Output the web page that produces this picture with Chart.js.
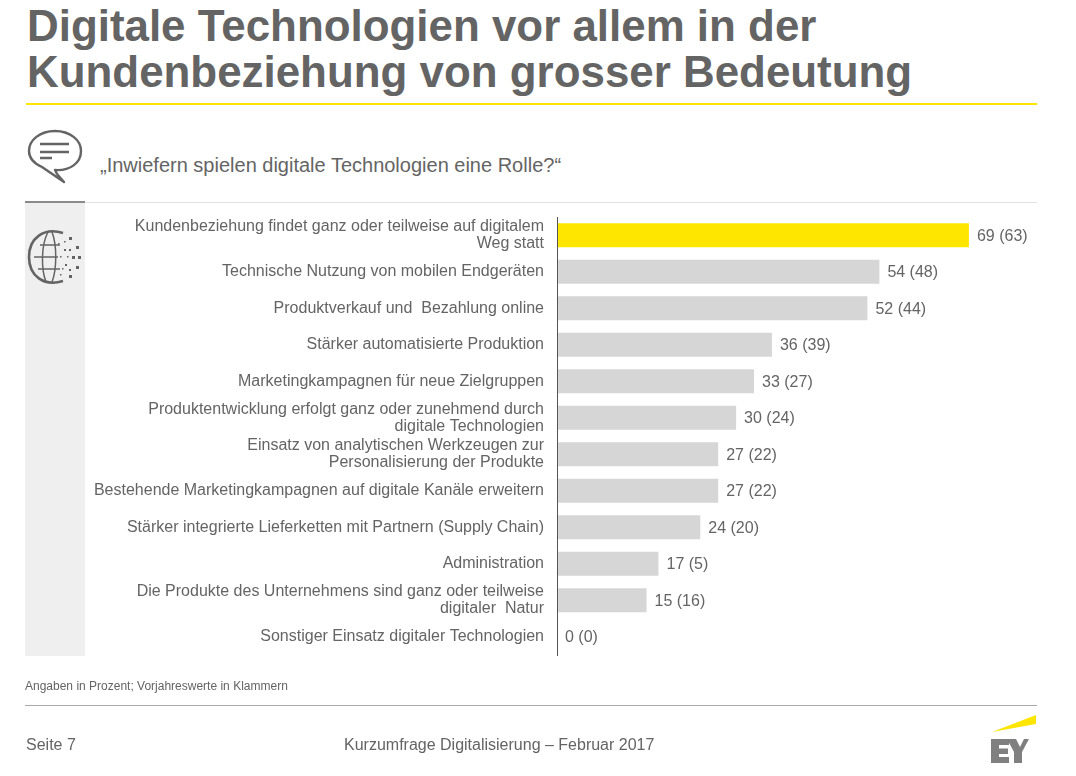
<!DOCTYPE html>
<html lang="de">
<head>
<meta charset="utf-8">
<title>Kurzumfrage Digitalisierung</title>
<script src="https://cdn.jsdelivr.net/npm/chart.js@4"></script>
<style>
    html, body { margin: 0; padding: 0; background: #fff; }
    body { width: 1076px; height: 776px; position: relative; overflow: hidden; font-family: "Liberation Sans", Arial, sans-serif; color: #646464; }
    #chartBox { position: absolute; left: 0; top: 0; width: 1076px; height: 776px; }
    .abs { position: absolute; white-space: nowrap; }
    h1 { position: absolute; left: 27px; top: 3px; margin: 0; font-size: 43.9px; line-height: 45.5px; font-weight: bold; white-space: nowrap; }
</style>
</head>
<body>
<h1>Digitale Technologien vor allem in der<br>Kundenbeziehung von grosser Bedeutung</h1>
<div class="abs" style="left:26px;top:103px;width:1011px;height:2px;background:#FFE600"></div>
<div class="abs" id="question" style="left:100px;top:153px;font-size:20px;line-height:24px">„Inwiefern spielen digitale Technologien eine Rolle?“</div>

<svg class="abs" style="left:25px;top:128px" width="60" height="58" viewBox="25 128 60 58" fill="none" stroke="#646464">
    <path d="M57 174 L64 182 L42 167 C33 163 29 157 29 151 C29 140 40 131 55 131 C70 131 81 140 81 151 C81 163 70 171 55 170 L57 174" stroke-width="2.4" stroke-linejoin="round"/>
    <path d="M40 144 H69 M40 152 H69 M40 158 H52" stroke-width="2.6"/>
</svg>

<div class="abs" style="left:85px;top:202px;width:952px;height:1px;background:#e2e2e2"></div>
<div class="abs" style="left:25px;top:203px;width:60px;height:453px;background:#efefef"></div>
<div class="abs" style="left:25px;top:201px;width:60px;height:2px;background:#8a8a8a"></div>

<div id="chartBox"><canvas id="barChart"></canvas></div>

<svg class="abs" style="left:25px;top:228px" width="60" height="58" viewBox="25 228 60 58" fill="none" stroke="#646464">
    <path d="M63 233 C44 227 29 238 29 257 C29 276 44 287 63 281" stroke-width="2.6"/>
    <path d="M34 257 H58 M40 245 H60 M38 269 H60" stroke-width="1.5"/>
    <path d="M48 232 C41 245 41 269 46 282 M52 232 C57 245 57 269 52 282" stroke-width="1.5"/>
    <g fill="#646464" stroke="none">
        <rect x="69" y="237" width="3" height="3"/><rect x="76" y="246" width="3" height="3"/><rect x="69" y="249" width="2" height="2"/>
        <rect x="64" y="249" width="2" height="2"/><rect x="58" y="243" width="1.5" height="1.5"/><rect x="64" y="241" width="1.5" height="1.5"/>
        <rect x="67" y="256" width="1.5" height="1.5"/><rect x="72" y="256" width="3" height="3"/><rect x="78" y="256" width="3" height="3"/>
        <rect x="60" y="256" width="1.5" height="1.5"/><rect x="65" y="264" width="2" height="2"/><rect x="76" y="266" width="3" height="3"/>
        <rect x="69" y="269" width="2" height="2"/><rect x="69" y="275" width="3" height="3"/><rect x="62" y="268" width="1.5" height="1.5"/>
        <rect x="60" y="274" width="1.5" height="1.5"/>
    </g>
</svg>

<div class="abs" style="left:25px;top:680px;font-size:12px;line-height:13px">Angaben in Prozent; Vorjahreswerte in Klammern</div>
<div class="abs" style="left:25px;top:705px;width:1012px;height:1px;background:#a8a8a8"></div>
<div class="abs" style="left:26px;top:736px;font-size:16px;line-height:18px">Seite 7</div>
<div class="abs" style="left:344px;top:736px;font-size:16px;line-height:18px">Kurzumfrage Digitalisierung – Februar 2017</div>

<svg class="abs" style="left:985px;top:712px" width="52" height="56" viewBox="985 712 52 56">
    <path d="M992 732 L1036 715 V724 Z" fill="#FFE600"/>
    <path d="M991 739 H1009 V745 H999 V748.5 H1008 V754 H999 V757 H1009 V763 H991 Z" fill="#808080"/>
    <path d="M1007 739 H1016 L1020 747 L1024 739 H1029 L1022 752 V763 H1014 V752 Z" fill="#808080"/>
</svg>

<script>
const categories = [
    ['Kundenbeziehung findet ganz oder teilweise auf digitalem', 'Weg statt'],
    'Technische Nutzung von mobilen Endgeräten',
    'Produktverkauf und  Bezahlung online',
    'Stärker automatisierte Produktion',
    'Marketingkampagnen für neue Zielgruppen',
    ['Produktentwicklung erfolgt ganz oder zunehmend durch', 'digitale Technologien'],
    ['Einsatz von analytischen Werkzeugen zur', 'Personalisierung der Produkte'],
    'Bestehende Marketingkampagnen auf digitale Kanäle erweitern',
    'Stärker integrierte Lieferketten mit Partnern (Supply Chain)',
    'Administration',
    ['Die Produkte des Unternehmens sind ganz oder teilweise', 'digitaler  Natur'],
    'Sonstiger Einsatz digitaler Technologien'
];
const currentValues = [69, 54, 52, 36, 33, 30, 27, 27, 24, 17, 15, 0];
const previousValues = [63, 48, 44, 39, 27, 24, 22, 22, 20, 5, 16, 0];
const barColors = ['#FFE600', '#D6D6D6', '#D6D6D6', '#D6D6D6', '#D6D6D6', '#D6D6D6', '#D6D6D6', '#D6D6D6', '#D6D6D6', '#D6D6D6', '#D6D6D6', '#D6D6D6'];

const textColor = '#646464';
const labelFont = '16px "Liberation Sans", Arial, sans-serif';

// "69 (63)" next to each bar
const valueLabels = {
    id: 'valueLabels',
    afterDatasetsDraw(chart) {
        const ctx = chart.ctx;
        const bars = chart.getDatasetMeta(0).data;
        ctx.save();
        ctx.font = labelFont;
        ctx.fillStyle = textColor;
        ctx.textAlign = 'left';
        ctx.textBaseline = 'middle';
        bars.forEach((bar, i) => {
            ctx.fillText(currentValues[i] + ' (' + previousValues[i] + ')', bar.x + 8, bar.y + 1);
        });
        ctx.restore();
    }
};

new Chart(document.getElementById('barChart').getContext('2d'), {
    type: 'bar',
    data: {
        labels: categories,
        datasets: [{
            data: currentValues,
            backgroundColor: barColors,
            borderWidth: 0,
            categoryPercentage: 1,
            barPercentage: 0.66
        }]
    },
    options: {
        indexAxis: 'y',
        responsive: true,
        maintainAspectRatio: false,
        animation: false,
        layout: { padding: { left: 0, top: 217, right: 41.4, bottom: 121 } },
        plugins: { legend: { display: false }, tooltip: { enabled: false } },
        scales: {
            x: { display: false, min: 0, max: 80 },
            y: {
                afterFit: (scale) => { scale.width = 557; },
                grid: { display: false, drawTicks: false },
                border: { display: true, color: '#555555', width: 1, z: 1 },
                ticks: {
                    autoSkip: false,
                    padding: 13,
                    color: textColor,
                    font: { family: '"Liberation Sans", Arial, sans-serif', size: 16, lineHeight: 1.06 }
                }
            }
        }
    },
    plugins: [valueLabels]
});
</script>
</body>
</html>
